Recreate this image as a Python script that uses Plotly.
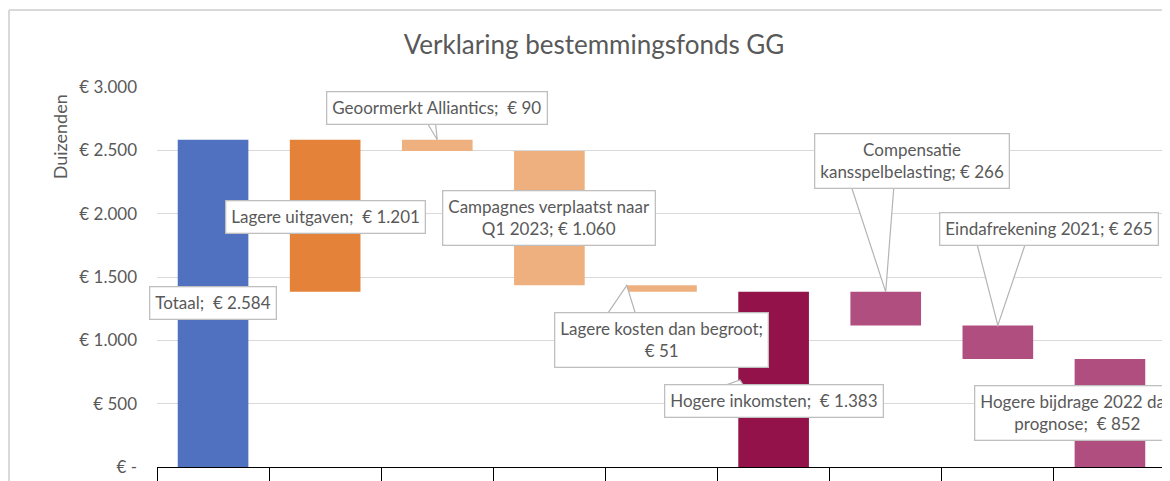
import plotly.graph_objects as go

# ---- data ----
categories = ["Totaal", "Lagere uitgaven", "Geoormerkt Alliantics",
              "Campagnes verplaatst naar Q1 2023", "Lagere kosten dan begroot",
              "Hogere inkomsten", "Compensatie kansspelbelasting",
              "Eindafrekening 2021", "Hogere bijdrage 2022 dan prognose"]
values = [2584, 1201, 90, 1060, 51, 1383, 266, 265, 852]
tops = [2584, 2584, 2584, 2494, 1434, 1383, 1383, 1117, 852]
label_texts = ["Totaal;  € 2.584", "Lagere uitgaven;  € 1.201",
               "Geoormerkt Alliantics;  € 90",
               "Campagnes verplaatst naar<br>Q1 2023; € 1.060",
               "Lagere kosten dan begroot;<br>€ 51",
               "Hogere inkomsten;  € 1.383",
               "Compensatie<br>kansspelbelasting; € 266",
               "Eindafrekening 2021; € 265",
               "Hogere bijdrage 2022 dan<br>prognose;  € 852"]
y_tickvals = [0, 500, 1000, 1500, 2000, 2500, 3000]
y_ticktext = ["€ -", "€ 500", "€ 1.000", "€ 1.500", "€ 2.000", "€ 2.500", "€ 3.000"]

bases = [t - v for t, v in zip(tops, values)]

colors = ["#4F71BF", "#E5823A", "#EEB07F", "#EEB07F", "#EEB07F",
          "#931249", "#B14E80", "#B14E80", "#B14E80"]

FONT = "Lato"
GRAY = "#595959"

fig = go.Figure()
fig.add_trace(go.Bar(x=categories, y=values, base=bases, marker_color=colors,
                     marker_line_width=0, width=0.63, hoverinfo="skip"))

# label positions (category index, value) -- layout only
label_pos = [(0.0, 1295), (1.0, 1975), (2.0, 2834), (3.0, 1966), (4.0, 1003),
             (5.0, 525), (6.23, 2412), (7.46, 1879), (7.71, 426)]

# callout wedges: (base x1, base x2, base y, tip x, tip y)
wedges = [(1.83, 1.97, 2834, 2.0, 2584),
          (3.36, 3.84, 1003, 3.69, 1434),
          (4.19, 4.82, 525, 4.70, 687),
          (5.62, 6.09, 2412, 6.0, 1383),
          (6.78, 7.29, 1879, 7.0, 1117)]
for bx1, bx2, by, tx, ty in wedges:
    fig.add_shape(type="path", xref="x", yref="y",
                  path=f"M {bx1} {by} L {tx} {ty} L {bx2} {by} Z",
                  line=dict(color="#B4B4B4", width=1.2), fillcolor="white",
                  layer="above")

for (lx, ly), t in zip(label_pos, label_texts):
    fig.add_annotation(x=lx, y=ly, xref="x", yref="y", text=t, showarrow=False,
                       font=dict(family=FONT, size=17, color=GRAY),
                       bgcolor="white", bordercolor="#BFBFBF", borderwidth=1.3,
                       borderpad=5, align="center")

# axis title "Duizenden"
fig.add_annotation(x=-0.096, y=0.868, xref="paper", yref="paper", text="Duizenden",
                   textangle=-90, showarrow=False, xanchor="center", yanchor="middle",
                   font=dict(family=FONT, size=18, color=GRAY))

# outer chart border (top and left visible)
fig.add_shape(type="line", xref="paper", yref="paper", x0=-0.1467, x1=1.2,
              y0=1.2026, y1=1.2026, line=dict(color="#D9D9D9", width=2))
fig.add_shape(type="line", xref="paper", yref="paper", x0=-0.1467, x1=-0.1467,
              y0=1.2026, y1=-0.2, line=dict(color="#D9D9D9", width=2))

fig.update_layout(
    width=1170, height=481,
    margin=dict(l=149, r=12, t=79, b=22),
    paper_bgcolor="white", plot_bgcolor="white",
    showlegend=False,
    title=dict(text="Verklaring bestemmingsfonds GG", x=586/1170, xanchor="center",
               y=1 - 37/481, yanchor="middle", xref="container", yref="container",
               font=dict(family=FONT, size=26, color=GRAY)),
)
fig.update_xaxes(type="category", range=[-0.5, 8.5], showticklabels=False,
                 tickson="boundaries", ticks="outside", ticklen=22,
                 tickcolor="black", tickwidth=1.3, automargin=False,
                 showline=True, linecolor="black", linewidth=1.3,
                 showgrid=False, zeroline=False, fixedrange=True)
fig.update_yaxes(range=[0, 3000], tickvals=y_tickvals, ticktext=y_ticktext,
                 showgrid=True, gridcolor="#D9D9D9", gridwidth=1.3,
                 zeroline=False, showline=False, ticks="", automargin=False,
                 ticklabelstandoff=19,
                 tickfont=dict(family=FONT, size=17, color=GRAY))

fig.write_html("out.html")
